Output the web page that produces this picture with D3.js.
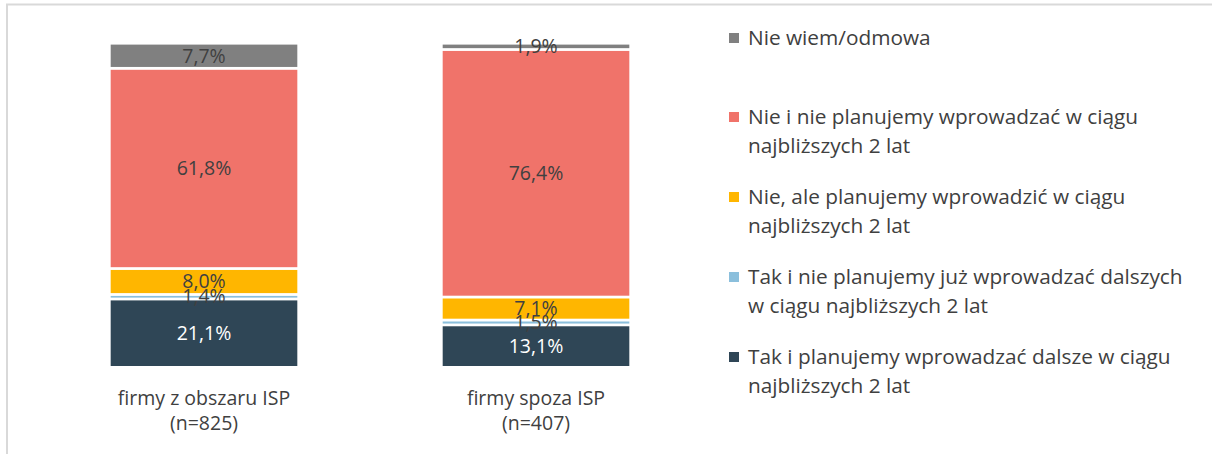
<!DOCTYPE html>
<html>
<head>
<meta charset="utf-8">
<script src="https://cdn.jsdelivr.net/npm/d3@7"></script>
<style>
  body { margin: 0; background: #fff; }
  svg text { font-family: "Open Sans", "Noto Sans", sans-serif; fill: #404040; }
</style>
</head>
<body>
<div id="chart"></div>
<script>
// categories (bars) and their two-line labels
var categories = ["isp", "poza"];
var categoryLabels = [["firmy z obszaru ISP", "(n=825)"], ["firmy spoza ISP", "(n=407)"]];

// series, bottom to top of the stack
var seriesKeys = ["takDalsze", "takNie", "nieAle", "nieNie", "nieWiem"];
var seriesNames = [
  ["Tak i planujemy wprowadzać dalsze w ciągu", "najbliższych 2 lat"],
  ["Tak i nie planujemy już wprowadzać dalszych", "w ciągu najbliższych 2 lat"],
  ["Nie, ale planujemy wprowadzić w ciągu", "najbliższych 2 lat"],
  ["Nie i nie planujemy wprowadzać w ciągu", "najbliższych 2 lat"],
  ["Nie wiem/odmowa"]
];
var seriesColors = ["#2f4656", "#8bbfdc", "#ffb600", "#f0736a", "#808080"];

// values in %, one per category
var takDalsze = [21.1, 13.1];
var takNie = [1.4, 1.5];
var nieAle = [8.0, 7.1];
var nieNie = [61.8, 76.4];
var nieWiem = [7.7, 1.9];

var width = 1212, height = 454;

var rows = categories.map(function (c, i) {
  return {
    cat: c,
    takDalsze: takDalsze[i],
    takNie: takNie[i],
    nieAle: nieAle[i],
    nieNie: nieNie[i],
    nieWiem: nieWiem[i]
  };
});

var svg = d3.select("#chart")
  .append("svg")
  .attr("width", width)
  .attr("height", height);

// outer frame (cut-off chart border)
svg.append("line")
  .attr("x1", 6).attr("x2", width)
  .attr("y1", 4.5).attr("y2", 4.5)
  .attr("stroke", "#d9d9d9").attr("stroke-width", 2);
svg.append("line")
  .attr("x1", 7).attr("x2", 7)
  .attr("y1", 4).attr("y2", height)
  .attr("stroke", "#d9d9d9").attr("stroke-width", 2);

var x = d3.scaleBand()
  .domain(categories)
  .range([38, 702])
  .paddingInner(0.43)
  .paddingOuter(0.215);

var y = d3.scaleLinear().domain([0, 100]).range([367.3, 43.3]);

var stacked = d3.stack().keys(seriesKeys)(rows);

var layers = svg.append("g")
  .selectAll("g.layer")
  .data(stacked)
  .enter()
  .append("g")
  .attr("class", "layer")
  .attr("fill", function (d, i) { return seriesColors[i]; });

layers.selectAll("rect")
  .data(function (d) { return d; })
  .enter()
  .append("rect")
  .attr("x", function (d) { return x(d.data.cat); })
  .attr("width", x.bandwidth())
  .attr("y", function (d) { return y(d[1]); })
  .attr("height", function (d) { return y(d[0]) - y(d[1]); })
  .attr("stroke", "#fff")
  .attr("stroke-width", 2.6);

// data labels drawn above all bars
var labelG = svg.append("g");
stacked.forEach(function (layer, li) {
  labelG.selectAll("text.l" + li)
    .data(layer)
    .enter()
    .append("text")
    .attr("class", "l" + li)
    .attr("x", function (d) { return x(d.data.cat) + x.bandwidth() / 2; })
    .attr("y", function (d) { return (y(d[0]) + y(d[1])) / 2; })
    .attr("dy", "0.35em")
    .attr("text-anchor", "middle")
    .style("font-size", "19.5px")
    .style("fill", li === 0 ? "#ffffff" : "#404040")
    .text(function (d) { return (d[1] - d[0]).toFixed(1).replace(".", ",") + "%"; });
});

// category labels
var catG = svg.append("g")
  .selectAll("text")
  .data(categories)
  .enter()
  .append("text")
  .attr("text-anchor", "middle")
  .attr("x", function (d) { return x(d) + x.bandwidth() / 2; })
  .attr("y", 398)
  .style("font-size", "19.5px");

catG.selectAll("tspan")
  .data(function (d, i) { return categoryLabels[i]; })
  .enter()
  .append("tspan")
  .attr("x", function () { return x(d3.select(this.parentNode).datum()) + x.bandwidth() / 2; })
  .attr("dy", function (d, i) { return i === 0 ? "0.35em" : "25px"; })
  .text(function (d) { return d; });

// legend, top item is last series
var legendOrder = seriesKeys.map(function (k, i) { return i; }).reverse();
var legendY = [38, 117, 197, 277, 357];

var legend = svg.append("g")
  .selectAll("g")
  .data(legendOrder)
  .enter()
  .append("g")
  .attr("transform", function (d, i) { return "translate(729," + legendY[i] + ")"; });

legend.append("rect")
  .attr("x", 0)
  .attr("y", -5)
  .attr("width", 10)
  .attr("height", 10)
  .attr("fill", function (d) { return seriesColors[d]; });

legend.append("text")
  .attr("x", 19)
  .attr("y", 0)
  .style("font-size", "20.8px")
  .selectAll("tspan")
  .data(function (d) { return seriesNames[d]; })
  .enter()
  .append("tspan")
  .attr("x", 19)
  .attr("dy", function (d, i) { return i === 0 ? "0.35em" : "29px"; })
  .text(function (d) { return d; });
</script>
</body>
</html>
